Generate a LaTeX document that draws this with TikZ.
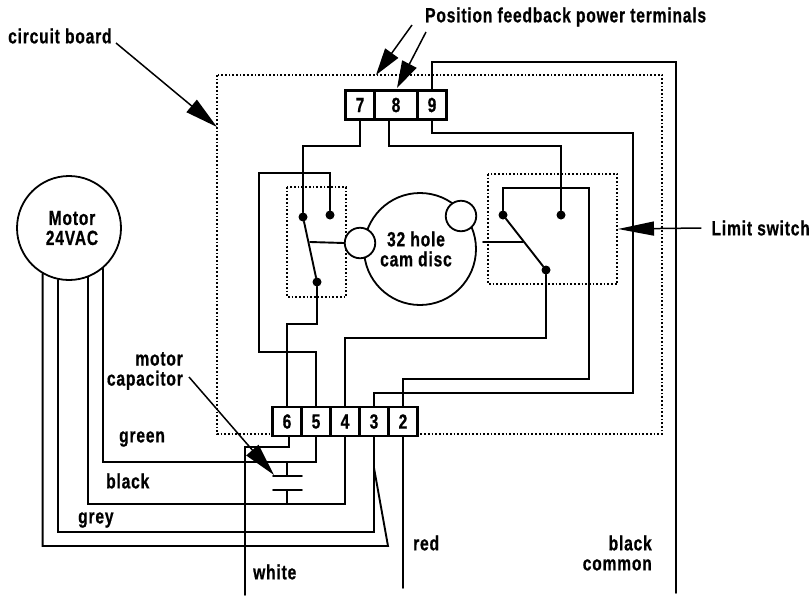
\documentclass[tikz,border=0pt]{standalone}
\usepackage{fontspec}
\setmainfont[FakeStretch=0.76,LetterSpace=4,FakeBold=0.7]{Liberation Sans}
\usetikzlibrary{positioning, arrows.meta}

\begin{document}
\begin{tikzpicture}[x=1pt, y=-1pt, node distance=0pt,
		wire/.style={line width=1.9pt, line cap=round},
		pointer/.style={line width=1.5pt, -{Triangle[length=33pt, width=16pt]}},
		terminal/.style={draw, fill=white, line width=2.4pt, outer sep=0pt, inner sep=0pt,
						minimum height=29, font=\fontsize{20.5}{20}\selectfont\bfseries},
		boundary/.style={line width=1.9pt, dash pattern=on 1.7pt off 2pt},
		contact/.style={circle, fill=black, inner sep=0pt, minimum size=9},
		wheel/.style={circle, draw, fill=white, line width=1.8pt, inner sep=0pt},
		caption/.style={inner sep=0pt, align=center, font=\fontsize{20.5}{20}\selectfont\bfseries}]
	\useasboundingbox (0,0) rectangle (812,595);

	% Dotted outlines
	\draw[boundary] (217,75) rectangle (662,434);
	\draw[boundary] (287,187) rectangle (346,297);
	\draw[boundary] (488,174) rectangle (617,284);

	% Terminal strips
	\node (t7) [terminal, minimum width=29] at (360,105) {7};
	\node (t8) [terminal, minimum width=43, right=of t7] {8};
	\node (t9) [terminal, minimum width=29, right=of t8] {9};

	\node (t6) [terminal, minimum width=29] at (287,421.5) {6};
	\node (t5) [terminal, minimum width=29, right=of t6] {5};
	\node (t4) [terminal, minimum width=29, right=of t5] {4};
	\node (t3) [terminal, minimum width=29, right=of t4] {3};
	\node (t2) [terminal, minimum width=29, right=of t3] {2};

	% Cam disc and followers
	\node (disc) [wheel, minimum size=112] at (420,249) {};
	\node (follow1) [wheel, minimum size=30.5] at (360,243) {};
	\node (follow2) [wheel, minimum size=30.5] at (461,216) {};
	\node (disctext) [caption] at (416,249) {32 hole\\cam disc};

	% Left switch
	\node (c1) [contact] at (303,217) {};
	\node (c2) [contact] at (330,215) {};
	\node (c3) [contact] at (317,282) {};
	\coordinate (lever1) at (310,242);

	% Right switch
	\node (c4) [contact] at (503,215) {};
	\node (c5) [contact] at (561,215) {};
	\node (c6) [contact] at (546,270) {};
	\coordinate (lever2) at (483,242);
	\coordinate (blade2) at (523,242);

	% Motor
	\node (motor) [wheel, minimum size=104] at (69,228) {};
	\node (motortext) [caption] at (72,228) {Motor\\24VAC};

	% Switch wiring
	\draw[wire] (c1) -- (c3);
	\draw[wire] (c4) -- (c6);
	\draw[wire] (lever1) -- (follow1.west);
	\draw[wire] (lever2) -- (blade2);
	\draw[wire] (t7.south) |- (c1.center |- 0,146) -- (c1);
	\draw[wire] ([xshift=-7]t8.south) |- (c5.center |- 0,146) -- (c5);
	\draw[wire] (c2) |- (259,173) |- (t5.center |- 0,352) -- (t5.north);
	\draw[wire] (c3) |- (t6.center |- 0,324) -- (t6.north);
	\draw[wire] (c6) |- (t4.center |- 0,338) -- (t4.north);
	\draw[wire] (c4) |- (589,188) |- (t2.center |- 0,379) -- (t2.north);
	\draw[wire] (t9.south) |- (633,133) |- (t3.center |- 0,393) -- (t3.north);
	\draw[wire] (t9.north) |- (676,62) -- (676,593);

	% Motor leads
	\draw[wire] (motor.-50.6) |- (t5.center |- 0,462) -- (t5.south);
	\draw[wire] (motor.-69.7) |- (t4.center |- 0,504) -- (t4.south);
	\draw[wire] (motor.-102) |- (t3.center |- 0,532) -- (t3.south);
	\coordinate (tap3) at (374,468);
	\draw[wire] (motor.-120) |- (388,546) -- (tap3);

	% Leads leaving the board
	\draw[wire] ([xshift=2]t6.south) |- (245,447) -- (245,595);
	\draw[wire] (t2.south) -- (t2.center |- 0,588);

	% Capacitor
	\coordinate (cap1) at (287,476);
	\coordinate (cap2) at (287,490);
	\draw[wire] (cap1 |- 0,462) -- (cap1);
	\draw[wire] (cap2) -- (cap2 |- 0,504);
	\draw[wire] ([xshift=-14]cap1) -- ([xshift=15]cap1);
	\draw[wire] ([xshift=-14]cap2) -- ([xshift=15]cap2);

	% Labels
	\node (boardlabel) [caption, anchor=west] at (8,36) {circuit board};
	\node (feedlabel) [caption, anchor=west] at (425,17) {Position feedback power terminals};
	\node (limitlabel) [caption, anchor=east] at (810,228) {Limit switch};
	\node (caplabel) [caption, anchor=east, align=right] at (183,371) {motor\\capacitor};
	\node (greenlabel) [caption, anchor=west] at (119,439) {green};
	\node (blacklabel) [caption, anchor=west] at (106,481) {black};
	\node (greylabel) [caption, anchor=west] at (78,520) {grey};
	\node (whitelabel) [caption, anchor=west] at (253,572) {white};
	\node (redlabel) [caption, anchor=west] at (413,543) {red};
	\node (commonlabel) [caption, anchor=east, align=right] at (652,553) {black\\common};

	% Pointers
	\coordinate (boardtip) at (217,127);
	\coordinate (feedtip1) at (376,75);
	\coordinate (feedtip2) at (397,88);
	\coordinate (limittip) at (618,229);
	\coordinate (captip) at (274,475);
	\draw[pointer] (116,43) -- (boardtip);
	\draw[pointer, -{Triangle[length=27pt, width=16pt]}] (412,25) -- (feedtip1);
	\draw[pointer, -{Triangle[length=27pt, width=16pt]}] (426,32) -- (feedtip2);
	\draw[pointer, -{Triangle[length=36pt, width=14pt]}] ([xshift=-10]limitlabel.west) -- (limittip);
	\draw[pointer] (189,377) -- (captip);

\end{tikzpicture}
\end{document}
